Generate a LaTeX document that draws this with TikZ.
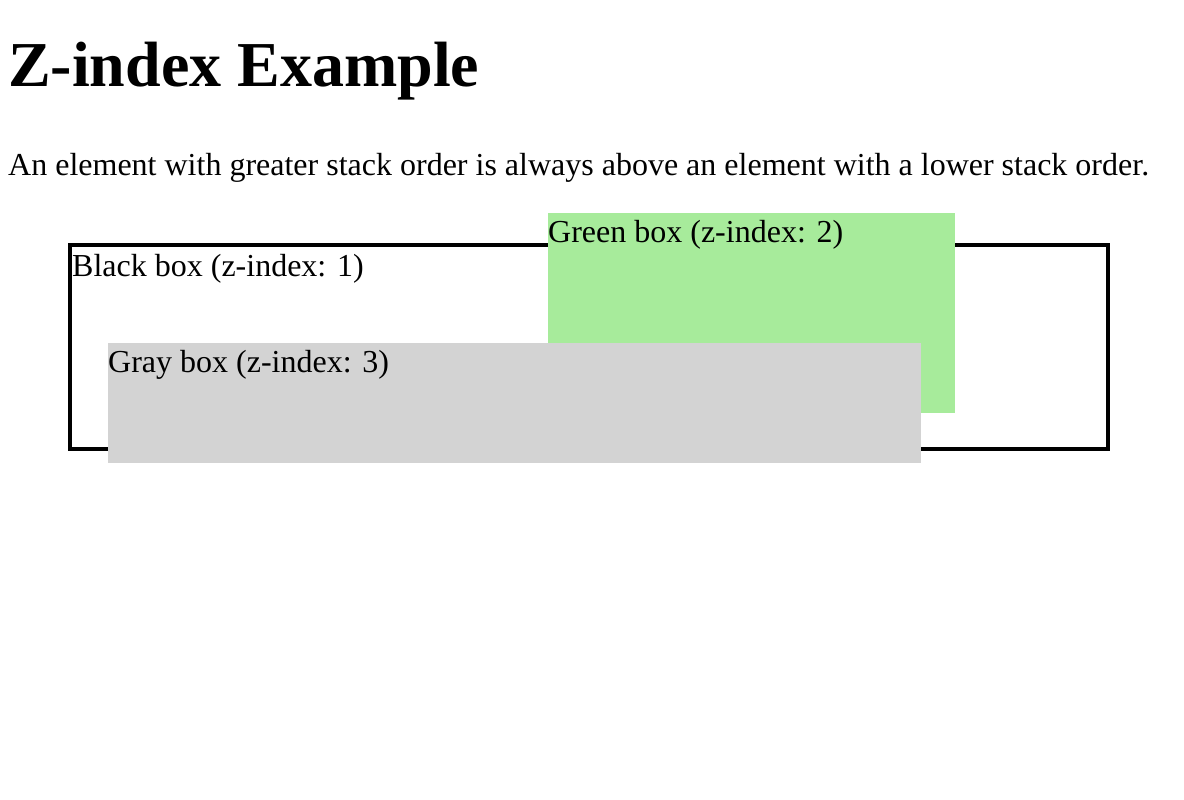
\documentclass[tikz,border=0pt]{standalone}
\usepackage{fontspec}
\setmainfont{Liberation Serif}
\definecolor{boxgreen}{RGB}{167,235,155}
\definecolor{boxgray}{RGB}{211,211,211}
\tikzset{
  body/.style={anchor=base west, inner sep=0pt, font=\fontsize{32}{37}\selectfont},
  heading/.style={anchor=base west, inner sep=0pt, font=\fontsize{64}{74}\selectfont\bfseries},
  panel/.style={rectangle, anchor=north west, inner sep=0pt, outer sep=0pt},
}
\begin{document}
\begin{tikzpicture}[x=1pt,y=-1pt]
\useasboundingbox[fill=white] (0,0) rectangle (1184,800);
\node[heading] (title) at (8,86) {Z-index Example};
\node[body] (intro) at (8,175) {An element with greater stack order is always above an element with a lower stack order.};
% black box (z-index 1)
\node[panel, draw=black, line width=4pt, minimum width=1038pt, minimum height=204pt] (black) at (70,245) {};
\node[body] (blacklabel) at (72,276) {Black box (z-index: 1)};
% green box (z-index 2)
\node[panel, fill=boxgreen, minimum width=407pt, minimum height=200pt] (green) at (548,213) {};
\node[body] (greenlabel) at (548,242) {Green box (z-index: 2)};
% gray box (z-index 3)
\node[panel, fill=boxgray, minimum width=813pt, minimum height=120pt] (gray) at (108,343) {};
\node[body] (graylabel) at (108,372) {Gray box (z-index: 3)};
\end{tikzpicture}
\end{document}
